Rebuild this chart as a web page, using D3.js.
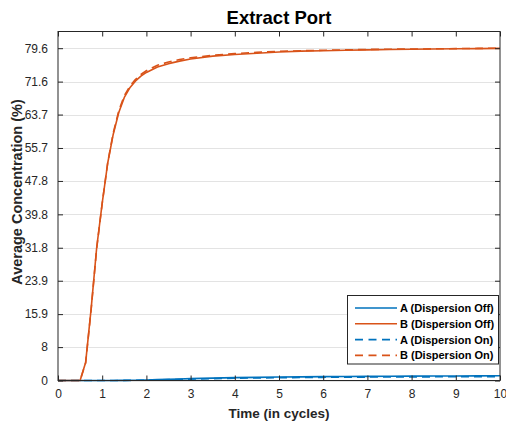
<!DOCTYPE html>
<html>
<head>
<meta charset="utf-8">
<script src="https://cdn.jsdelivr.net/npm/d3@7"></script>
<style>
  html, body { margin: 0; padding: 0; background: #fff; }
  svg { display: block; font-family: "Liberation Sans", Arial, Helvetica, sans-serif; }
</style>
</head>
<body>
<svg id="chart" width="506" height="423"></svg>
<script>
// Time axis samples (cycles)
const time = [0, 0.25, 0.5, 0.625, 0.75, 0.875, 1, 1.125, 1.25, 1.375, 1.5, 1.625, 1.75, 1.875, 2,
  2.25, 2.5, 2.75, 3, 3.5, 4, 4.5, 5, 5.5, 6, 6.5, 7, 7.5, 8, 8.5, 9, 9.5, 10];

// Average concentration (%) at the extract port
const aOff = [0, 0, 0, 0, 0, 0, 0, 0, 0.01, 0.02, 0.03, 0.05, 0.07, 0.09, 0.12,
  0.2, 0.28, 0.37, 0.45, 0.58, 0.68, 0.76, 0.83, 0.88, 0.93, 0.97, 1.0, 1.03, 1.05, 1.07, 1.09, 1.1, 1.12];
const bOff = [0, 0, 0, 4.3, 17.2, 31.8, 42.5, 52.1, 59.0, 64.2, 67.8, 70.1, 71.7, 72.9, 73.8,
  75.1, 75.9, 76.5, 77.0, 77.7, 78.1, 78.4, 78.7, 78.9, 79.0, 79.1, 79.2, 79.3, 79.35, 79.4, 79.45, 79.5, 79.55];
const aOn = [0, 0, 0, 0, 0, 0, 0, 0, 0, 0.01, 0.02, 0.03, 0.04, 0.06, 0.08,
  0.14, 0.2, 0.27, 0.34, 0.45, 0.54, 0.61, 0.67, 0.72, 0.76, 0.79, 0.82, 0.84, 0.86, 0.88, 0.9, 0.91, 0.92];
const bOn = [0, 0, 0, 4.2, 17.0, 31.6, 42.4, 52.2, 59.3, 64.6, 68.2, 70.5, 72.1, 73.3, 74.2,
  75.5, 76.3, 76.9, 77.3, 77.9, 78.3, 78.6, 78.85, 79.0, 79.1, 79.2, 79.3, 79.35, 79.4, 79.45, 79.5, 79.55, 79.6];

const seriesNames = ["A (Dispersion Off)", "B (Dispersion Off)", "A (Dispersion On)", "B (Dispersion On)"];
const seriesValues = [aOff, bOff, aOn, bOn];
const seriesColors = ["#0072BD", "#D95319", "#0072BD", "#D95319"];
const seriesDashed = [false, false, true, true];

const xTicks = [0, 1, 2, 3, 4, 5, 6, 7, 8, 9, 10];
const yTicks = [0, 8, 15.9, 23.9, 31.8, 39.8, 47.8, 55.7, 63.7, 71.6, 79.6];
const yMax = 83.6;

const svg = d3.select("#chart");
const plot = { left: 58, right: 500, top: 31.5, bottom: 380.5 };
const axisColor = "#262626";

const x = d3.scaleLinear().domain([0, 10]).range([plot.left, plot.right]);
const y = d3.scaleLinear().domain([0, yMax]).range([plot.bottom, plot.top]);

// horizontal grid
svg.append("g")
  .selectAll("line")
  .data(yTicks)
  .join("line")
  .attr("x1", plot.left).attr("x2", plot.right)
  .attr("y1", d => Math.round(y(d)) + 0.5).attr("y2", d => Math.round(y(d)) + 0.5)
  .attr("stroke", "#e3e3e3").attr("stroke-width", 1);

// data lines
const line = d3.line().x((d, i) => x(time[i])).y(d => y(d));
seriesValues.forEach((vals, k) => {
  svg.append("path")
    .datum(vals)
    .attr("d", line)
    .attr("fill", "none")
    .attr("stroke", seriesColors[k])
    .attr("stroke-width", 1.6)
    .attr("stroke-linejoin", "round")
    .attr("stroke-dasharray", seriesDashed[k] ? "8,5" : null);
});

// axes with inward ticks on all four sides
const tickLen = 5;
const fmtY = d => String(d);
const bottomAxis = d3.axisBottom(x).tickValues(xTicks).tickSizeInner(-tickLen).tickSizeOuter(0).tickPadding(9);
const leftAxis = d3.axisLeft(y).tickValues(yTicks).tickFormat(fmtY).tickSizeInner(-tickLen).tickSizeOuter(0).tickPadding(10);
const topAxis = d3.axisTop(x).tickValues(xTicks).tickSizeInner(-tickLen).tickSizeOuter(0).tickFormat("");
const rightAxis = d3.axisRight(y).tickValues(yTicks).tickSizeInner(-tickLen).tickSizeOuter(0).tickFormat("");

function styleAxis(g) {
  g.select(".domain").remove();
  g.selectAll(".tick line").attr("stroke", axisColor);
  g.selectAll(".tick text").attr("fill", axisColor).attr("font-size", 12)
    .attr("font-family", "Liberation Sans, Arial, sans-serif");
}

svg.append("g").attr("transform", `translate(0,${plot.bottom})`).call(bottomAxis).call(styleAxis);
svg.append("g").attr("transform", `translate(${plot.left},0)`).call(leftAxis).call(styleAxis);
svg.append("g").attr("transform", `translate(0,${plot.top})`).call(topAxis).call(styleAxis);
svg.append("g").attr("transform", `translate(${plot.right},0)`).call(rightAxis).call(styleAxis);

// plot box
svg.append("rect")
  .attr("x", plot.left).attr("y", plot.top)
  .attr("width", plot.right - plot.left).attr("height", plot.bottom - plot.top)
  .attr("fill", "none").attr("stroke", axisColor).attr("stroke-width", 1);

// title and axis labels
svg.append("text")
  .attr("x", (plot.left + plot.right) / 2).attr("y", 24)
  .attr("text-anchor", "middle").attr("font-weight", "bold").attr("font-size", 18.5)
  .attr("fill", "#000").text("Extract Port");

svg.append("text")
  .attr("x", (plot.left + plot.right) / 2).attr("y", 418)
  .attr("text-anchor", "middle").attr("font-weight", "bold").attr("font-size", 13.5)
  .attr("fill", axisColor).text("Time (in cycles)");

svg.append("text")
  .attr("transform", `translate(21.5,${(plot.top + plot.bottom) / 2 - 14}) rotate(-90)`)
  .attr("text-anchor", "middle").attr("font-weight", "bold").attr("font-size", 14.5)
  .attr("fill", axisColor).text("Average Concentration (%)");

// legend
const legend = svg.append("g").attr("transform", "translate(347.5,295.5)");
legend.append("rect")
  .attr("width", 151).attr("height", 68.5)
  .attr("fill", "#fff").attr("stroke", axisColor).attr("stroke-width", 1);
seriesNames.forEach((name, k) => {
  const ry = 12.5 + k * 15.8;
  legend.append("line")
    .attr("x1", 7.5).attr("x2", 49.5).attr("y1", ry).attr("y2", ry)
    .attr("stroke", seriesColors[k]).attr("stroke-width", 1.6)
    .attr("stroke-dasharray", seriesDashed[k] ? "8,5.5" : null);
  legend.append("text")
    .attr("x", 52.5).attr("y", ry + 4)
    .attr("font-weight", "bold").attr("font-size", 11)
    .attr("fill", "#000").text(name);
});
</script>
</body>
</html>
